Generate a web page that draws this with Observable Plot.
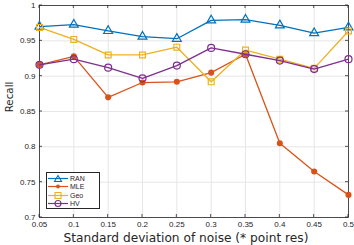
<!DOCTYPE html>
<html><head><meta charset="utf-8">
<script src="https://cdn.jsdelivr.net/npm/d3@7"></script>
<script src="https://cdn.jsdelivr.net/npm/@observablehq/plot@0.6"></script>
<style>
body{margin:0;background:#fff;}
#wrap{position:relative;width:354px;height:245px;font-family:"Liberation Sans",Arial,sans-serif;}
#legend{position:absolute;left:46px;top:172px;width:54px;height:37px;border:1px solid #262626;background:#fff;font-size:7px;color:#262626;box-sizing:border-box;padding-top:1px;}
#legend div{display:flex;align-items:center;height:8.5px;}
#legend svg{margin-left:1px;margin-right:2px;}
</style></head>
<body><div id="wrap"></div>
<script>
const noise = [0.05,0.1,0.15,0.2,0.25,0.3,0.35,0.4,0.45,0.5];
const RAN = [0.970,0.973,0.964,0.956,0.953,0.979,0.980,0.972,0.961,0.969];
const MLE = [0.916,0.928,0.870,0.891,0.892,0.905,0.931,0.805,0.765,0.732];
const Geo = [0.969,0.952,0.930,0.930,0.941,0.892,0.937,0.924,0.911,0.964];
const HV  = [0.916,0.924,0.912,0.897,0.915,0.940,0.931,0.922,0.910,0.924];
const seriesNames = ["RAN","MLE","Geo","HV"];
const seriesColors = ["#0072BD","#D95319","#EDB120","#7E2F8E"];
const seriesSymbols = ["triangle","circle","square","circle"];
const xTicks = [0.05,0.1,0.15,0.2,0.25,0.3,0.35,0.4,0.45,0.5];
const yTicks = [0.7,0.75,0.8,0.85,0.9,0.95,1];

const all = [RAN,MLE,Geo,HV];
const rows = [];
all.forEach((vals,i)=>vals.forEach((v,j)=>rows.push({x:noise[j],y:v,s:seriesNames[i]})));

const marks = [
  Plot.gridX(xTicks,{stroke:"#e6e6e6",strokeOpacity:1}),
  Plot.gridY(yTicks,{stroke:"#e6e6e6",strokeOpacity:1}),
  Plot.frame({stroke:"#262626",strokeWidth:0.8}),
  Plot.axisX(xTicks,{tickSize:0,tickPadding:3.5,fontSize:8,tickFormat:d=>String(+d.toFixed(2)),label:null,color:"#262626"}),
  Plot.axisY(yTicks,{tickSize:0,tickPadding:4,fontSize:8,tickFormat:d=>String(+d.toFixed(2)),label:null,color:"#262626"}),
];
seriesNames.forEach((n,i)=>{
  const d = rows.filter(r=>r.s===n);
  marks.push(Plot.line(d,{x:"x",y:"y",stroke:seriesColors[i],strokeWidth:1.3}));
  if(n==="MLE"){
    marks.push(Plot.dot(d,{x:"x",y:"y",fill:seriesColors[i],stroke:seriesColors[i],r:2.3,symbol:"circle"}));
  } else {
    marks.push(Plot.dot(d,{x:"x",y:"y",stroke:seriesColors[i],fill:"none",strokeWidth:1.2,r:n==="HV"?3.5:3.3,symbol:seriesSymbols[i]}));
  }
});
const plot = Plot.plot({
  width:354,height:245,
  marginLeft:39,marginRight:6,marginTop:5,marginBottom:28,
  x:{domain:[0.05,0.5]},
  y:{domain:[0.7,1]},
  style:{fontFamily:"Liberation Sans, Arial, sans-serif",background:"#fff"},
  marks,
});
// inward ticks
const svg = d3.select(plot);
const xs = plot.scale("x"), ys = plot.scale("y");
const g = svg.append("g").attr("stroke","#262626").attr("stroke-width",0.8);
xTicks.forEach(t=>{const px=xs.apply(t);g.append("line").attr("x1",px).attr("x2",px).attr("y1",ys.apply(0.7)).attr("y2",ys.apply(0.7)-3);g.append("line").attr("x1",px).attr("x2",px).attr("y1",ys.apply(1)).attr("y2",ys.apply(1)+3);});
yTicks.forEach(t=>{const py=ys.apply(t);g.append("line").attr("y1",py).attr("y2",py).attr("x1",xs.apply(0.05)).attr("x2",xs.apply(0.05)+3);g.append("line").attr("y1",py).attr("y2",py).attr("x1",xs.apply(0.5)).attr("x2",xs.apply(0.5)-3);});
svg.append("text").attr("x",186).attr("y",241.5).attr("text-anchor","middle")
  .attr("font-family","DejaVu Sans").attr("font-size",12.2).attr("fill","#262626").text("Standard deviation of noise (* point res)");
svg.append("text").attr("transform",`translate(12.5,97) rotate(-90)`).attr("text-anchor","middle")
  .attr("font-family","DejaVu Sans").attr("font-size",10.3).attr("fill","#262626").text("Recall");
const wrap = document.getElementById("wrap");
wrap.appendChild(plot);
// legend
const leg = document.createElement("div"); leg.id="legend";
const symPath = {triangle:"M10,1.5L13.5,7.5L6.5,7.5Z",square:"M7,1.5H13V7.5H7Z"};
seriesNames.forEach((n,i)=>{
  const row=document.createElement("div");
  let mk;
  if(n==="MLE") mk=`<circle cx="10" cy="4.5" r="2" fill="${seriesColors[i]}"/>`;
  else if(n==="HV") mk=`<circle cx="10" cy="4.5" r="3" fill="none" stroke="${seriesColors[i]}" stroke-width="1.1"/>`;
  else mk=`<path d="${symPath[seriesSymbols[i]]}" fill="none" stroke="${seriesColors[i]}" stroke-width="1.1"/>`;
  row.innerHTML=`<svg width="20" height="9"><line x1="0" x2="20" y1="4.5" y2="4.5" stroke="${seriesColors[i]}" stroke-width="1.2"/>${mk}</svg><span>${n}</span>`;
  leg.appendChild(row);
});
wrap.appendChild(leg);
</script></body></html>
